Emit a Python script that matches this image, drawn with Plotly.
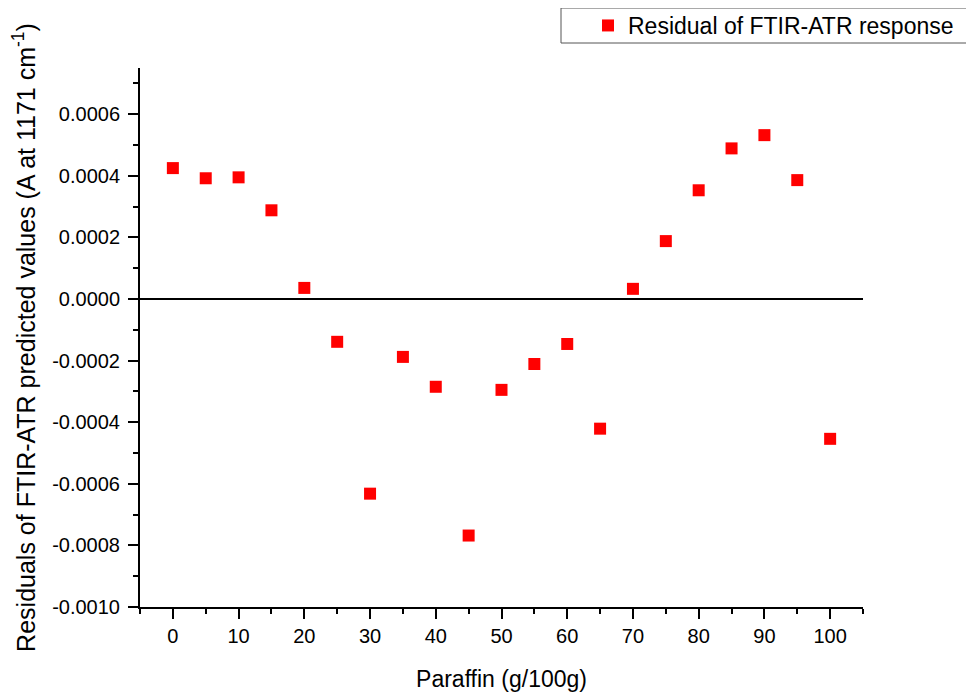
import plotly.graph_objects as go

paraffin = [0, 5, 10, 15, 20, 25, 30, 35, 40, 45, 50, 55, 60, 65, 70, 75, 80, 85, 90, 95, 100]
residual = [0.000425, 0.000392, 0.000395, 0.000288, 0.000036, -0.000139, -0.000632, -0.000188,
            -0.000285, -0.000768, -0.000295, -0.000211, -0.000146, -0.000421, 0.000033, 0.000188,
            0.000353, 0.000489, 0.000532, 0.000386, -0.000454]
series_name = "Residual of FTIR-ATR response"
x_ticks = [0, 10, 20, 30, 40, 50, 60, 70, 80, 90, 100]
y_ticks = [-0.0010, -0.0008, -0.0006, -0.0004, -0.0002, 0.0, 0.0002, 0.0004, 0.0006]
y_ticktext = ["-0.0010", "-0.0008", "-0.0006", "-0.0004", "-0.0002", "0.0000", "0.0002", "0.0004", "0.0006"]

FONT = "Liberation Sans, Arial, sans-serif"

# page offset from default body margin
OFF = 8
# plot area in page pixels
L, R, T, B = 140, 863, 68, 607
W, H = R - L, B - T


def px_x(px):
    return (px - L) / W


def px_y(py):
    return (B - py) / H


fig = go.Figure()
fig.add_trace(go.Scatter(
    x=paraffin, y=residual, mode="markers", name=series_name,
    marker=dict(symbol="square", size=12, color="#ff0000", line=dict(width=0)),
))

fig.update_layout(
    width=974, height=694,
    paper_bgcolor="white", plot_bgcolor="white",
    margin=dict(l=L - OFF, r=974 - (R - OFF), t=T - OFF, b=694 - (B - OFF), autoexpand=False),
    font=dict(family=FONT, size=20, color="black"),
    showlegend=True,
    legend=dict(
        x=px_x(588), y=px_y(25.5), xanchor="left", yanchor="middle",
        borderwidth=0, bgcolor="rgba(0,0,0,0)",
        font=dict(family=FONT, size=23, color="black"),
    ),
    shapes=[dict(
        type="rect", xref="paper", yref="paper",
        x0=px_x(561), x1=px_x(972), y0=px_y(43), y1=px_y(8),
        line=dict(color="#555555", width=1), fillcolor="rgba(0,0,0,0)", layer="below",
    )],
    xaxis=dict(
        range=[-5, 105], tickvals=x_ticks,
        showline=True, linecolor="black", linewidth=2, mirror=False,
        ticks="outside", ticklen=10, tickwidth=2, tickcolor="black",
        minor=dict(dtick=5, tick0=0, ticks="outside", ticklen=5, tickwidth=2, tickcolor="black"),
        showgrid=False, zeroline=False,
        title=dict(text="Paraffin (g/100g)", font=dict(family=FONT, size=23), standoff=25),
        tickfont=dict(family=FONT, size=20),
    ),
    yaxis=dict(
        range=[-0.0010, 0.00075], tickvals=y_ticks, ticktext=y_ticktext,
        showline=True, linecolor="black", linewidth=2, mirror=False,
        ticks="outside", ticklen=10, tickwidth=2, tickcolor="black",
        ticklabelstandoff=4,
        minor=dict(dtick=0.0001, tick0=0, ticks="outside", ticklen=5, tickwidth=2, tickcolor="black"),
        showgrid=False, zeroline=True, zerolinecolor="black", zerolinewidth=2,
        title=dict(text="Residuals of FTIR-ATR predicted values (A at 1171 cm<sup>-1</sup>)",
                   font=dict(family=FONT, size=25), standoff=18),
        tickfont=dict(family=FONT, size=20),
    ),
)

fig.write_html("out.html")
